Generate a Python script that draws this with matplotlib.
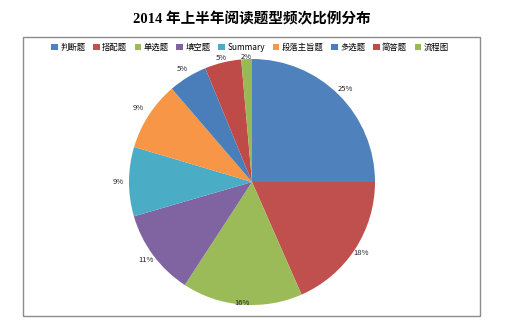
import numpy as np
import matplotlib.pyplot as plt
from matplotlib.patches import Rectangle

plt.rcParams['font.family'] = ['Noto Sans CJK SC', 'DejaVu Sans']

title = "2014 年上半年阅读题型频次比例分布"
categories = ["判断题", "搭配题", "单选题", "填空题", "Summary",
              "段落主旨题", "多选题", "简答题", "流程图"]
shares = [25.0, 18.4, 15.8, 11.3, 9.1, 9.1, 5.1, 4.8, 1.4]
pct_labels = ["25%", "18%", "16%", "11%", "9%", "9%", "5%", "5%", "2%"]
colors = ["#4F81BD", "#C0504D", "#9BBB59", "#8064A2", "#4BACC6",
          "#F79646", "#4A7EBB", "#BE4B48", "#98B954"]
# how far out each label sits (in pie radii)
label_r = [1.07, 1.06, 0.99, 1.07, 1.09, 1.10, 1.08, 1.04, 1.02]

W, H = 509, 331
fig = plt.figure(figsize=(W / 100, H / 100), dpi=100)

# chart box
fig.patches.append(Rectangle((23 / W, 1 - 316 / H), (480 - 23) / W, (316 - 37) / H,
                             transform=fig.transFigure, fill=False,
                             edgecolor="#8c8c8c", linewidth=1.0))

fig.text(252 / W, 1 - 19 / H, title, ha="center", va="center",
         fontsize=10.5, fontweight="bold",
         family=["Liberation Serif", "Noto Sans CJK SC"])

cx, cy, r = 252, 182, 123
ax = fig.add_axes([(cx - r) / W, (H - cy - r) / H, 2 * r / W, 2 * r / H])
wedges, _ = ax.pie(shares, colors=colors, startangle=90, counterclock=False,
                   radius=1, wedgeprops=dict(linewidth=0))
for w, lab, rr in zip(wedges, pct_labels, label_r):
    a = np.deg2rad((w.theta1 + w.theta2) / 2)
    ax.text(rr * np.cos(a), rr * np.sin(a), lab, ha="center", va="center",
            fontsize=5.5, color="#222222")
ax.set_xlim(-1, 1)
ax.set_ylim(-1, 1)
ax.set_aspect("equal")
ax.axis("off")

fig.legend(wedges, categories, loc="center", bbox_to_anchor=(250 / W, 1 - 47.5 / H),
           ncol=9, frameon=False, fontsize=6, handlelength=0.8, handleheight=0.8,
           handletextpad=0.3, columnspacing=0.9)

fig.savefig("out.png", dpi=100)
